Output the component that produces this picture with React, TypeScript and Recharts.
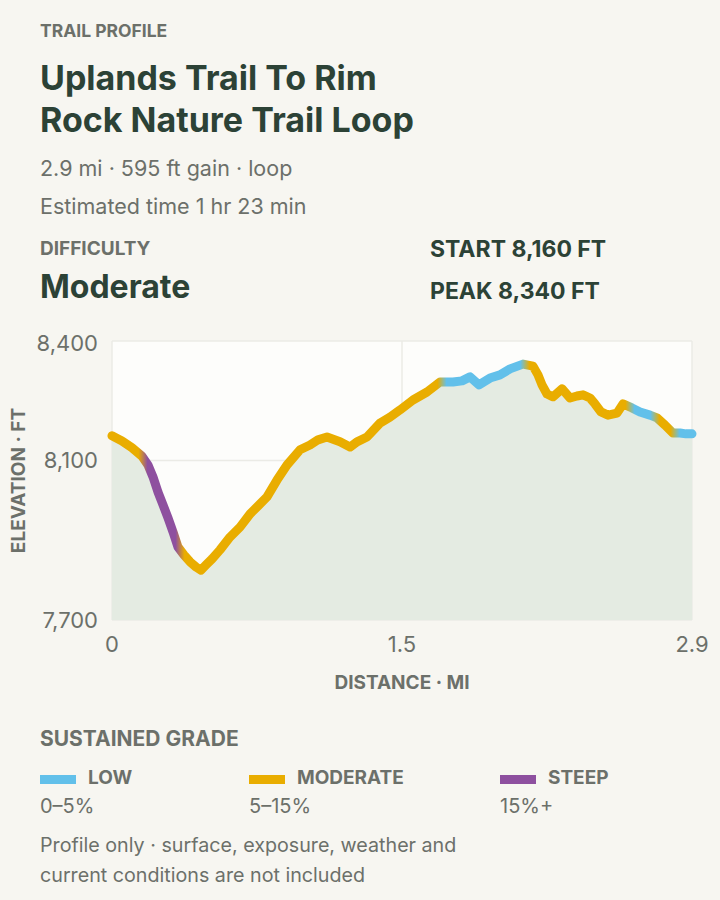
import React from "react";
import {
  ComposedChart,
  Area,
  Line,
  XAxis,
  YAxis,
  CartesianGrid,
  Label,
} from "recharts";

// ---- data ----
const distanceMi = [
  0, 0.05, 0.1, 0.15, 0.18, 0.205, 0.23, 0.255, 0.28, 0.305, 0.33, 0.36, 0.39,
  0.42, 0.445, 0.47, 0.5, 0.54, 0.59, 0.64, 0.69, 0.73, 0.775, 0.825, 0.875,
  0.94, 0.99, 1.03, 1.075, 1.14, 1.19, 1.225, 1.275, 1.34, 1.39, 1.44, 1.505,
  1.575, 1.64, 1.705, 1.75, 1.79, 1.835, 1.89, 1.94, 1.99, 2.055, 2.105, 2.13,
  2.15, 2.175, 2.205, 2.25, 2.29, 2.325, 2.355, 2.39, 2.415, 2.445, 2.48,
  2.525, 2.555, 2.6, 2.64, 2.69, 2.725, 2.765, 2.805, 2.84, 2.87, 2.9,
];
const elevationFt = [
  8162, 8149, 8132, 8111, 8089, 8059, 8021, 7989, 7956, 7921, 7883, 7863,
  7846, 7833, 7825, 7838, 7853, 7876, 7908, 7933, 7966, 7986, 8009, 8051,
  8089, 8127, 8139, 8152, 8159, 8147, 8134, 8147, 8159, 8194, 8209, 8227,
  8252, 8272, 8297, 8297, 8300, 8310, 8290, 8307, 8315, 8330, 8342, 8337,
  8315, 8290, 8267, 8260, 8280, 8257, 8262, 8265, 8257, 8242, 8222, 8214,
  8219, 8242, 8232, 8222, 8214, 8207, 8189, 8169, 8169, 8167, 8167,
];

// sustained-grade segments along the trail (mi)
const gradeBreaks = [0, 0.155, 0.34, 1.65, 2.065, 2.59, 2.715, 2.815, 2.9];
const gradeClasses = [
  "moderate",
  "steep",
  "moderate",
  "low",
  "moderate",
  "low",
  "moderate",
  "low",
];

const xTicks = [0, 1.45, 2.9];
const xTickLabels = ["0", "1.5", "2.9"];
const yTicks = [7700, 8100, 8400];
const yTickLabels = ["7,700", "8,100", "8,400"];

const legendKeys = ["low", "moderate", "steep"];
const legendNames = ["LOW", "MODERATE", "STEEP"];
const legendRanges = ["0–5%", "5–15%", "15%+"];

const gradeColors: Record<string, string> = {
  low: "#62c0ea",
  moderate: "#e9ad00",
  steep: "#8e509f",
};

const data = distanceMi.map((d, i) => ({ dist: d, elev: elevationFt[i] }));

const X_MAX = 2.9;
const BLEND = 0.045;

const stops: { offset: number; color: string }[] = [];
gradeClasses.forEach((cls, i) => {
  const s = gradeBreaks[i];
  const e = gradeBreaks[i + 1];
  const s2 = i === 0 ? s : s + BLEND / 2;
  const e2 = i === gradeClasses.length - 1 ? e : e - BLEND / 2;
  stops.push({ offset: s2 / X_MAX, color: gradeColors[cls] });
  stops.push({ offset: e2 / X_MAX, color: gradeColors[cls] });
});

const FONT = "Inter, 'Noto Sans', sans-serif";
const DARK = "#2c4236";
const GRAY = "#6c706a";

const T = (props: {
  x: number;
  cy: number;
  size: number;
  weight?: number;
  color?: string;
  lh?: number;
  children: React.ReactNode;
  ls?: number;
}) => {
  const lh = props.lh ?? Math.round(props.size * 1.3);
  return (
    <div
      style={{
        position: "absolute",
        left: props.x,
        top: props.cy - lh / 2,
        fontSize: props.size,
        lineHeight: `${lh}px`,
        fontWeight: props.weight ?? 400,
        color: props.color ?? GRAY,
        whiteSpace: "nowrap",
        letterSpacing: props.ls ?? 0,
      }}
    >
      {props.children}
    </div>
  );
};

const YTitle = (props: any) => {
  const vb = props.viewBox || { x: 0, y: 0, width: 112, height: 279 };
  const cx = vb.x + 18;
  const cy = vb.y + vb.height / 2;
  return (
    <text
      x={cx}
      y={cy}
      transform={`rotate(-90, ${cx}, ${cy})`}
      textAnchor="middle"
      dominantBaseline="central"
      fill={GRAY}
      fontSize={19}
      fontWeight={700}
      fontFamily={FONT}
    >
      ELEVATION · FT
    </text>
  );
};

export default function App() {
  return (
    <div
      style={{
        position: "absolute",
        left: 0,
        top: 0,
        width: 720,
        height: 900,
        background: "#f7f6f1",
        fontFamily: FONT,
        overflow: "hidden",
      }}
    >
      <T x={40} cy={30} size={17.5} weight={700}>
        TRAIL PROFILE
      </T>
      <T x={40} cy={78} size={34} weight={700} color={DARK}>
        Uplands Trail To Rim
      </T>
      <T x={40} cy={120} size={34} weight={700} color={DARK}>
        Rock Nature Trail Loop
      </T>
      <T x={40} cy={168} size={21.5}>
        2.9 mi · 595 ft gain · loop
      </T>
      <T x={40} cy={206} size={21.5}>
        Estimated time 1 hr 23 min
      </T>
      <T x={40} cy={248} size={19} weight={700}>
        DIFFICULTY
      </T>
      <T x={40} cy={287} size={32} weight={700} color={DARK}>
        Moderate
      </T>
      <T x={430} cy={249} size={23} weight={700} color={DARK}>
        START 8,160 FT
      </T>
      <T x={430} cy={291} size={23} weight={700} color={DARK}>
        PEAK 8,340 FT
      </T>

      <div style={{ position: "absolute", left: 0, top: 330 }}>
        <ComposedChart
          width={720}
          height={375}
          data={data}
          margin={{ top: 11, right: 28, bottom: 0, left: 0 }}
        >
          <defs>
            <linearGradient id="gradeGrad" x1="0" y1="0" x2="1" y2="0">
              {stops.map((s, i) => (
                <stop key={i} offset={s.offset} stopColor={s.color} />
              ))}
            </linearGradient>
          </defs>
          <CartesianGrid
            fill="#fdfdfb"
            stroke="#ebebe6"
            strokeWidth={1.5}
            horizontalValues={yTicks}
            verticalValues={xTicks}
          />
          <XAxis
            dataKey="dist"
            type="number"
            domain={[0, X_MAX]}
            ticks={xTicks}
            tickFormatter={(v: number) => xTickLabels[xTicks.indexOf(v)]}
            axisLine={false}
            tickLine={false}
            tickMargin={10}
            height={85}
            tick={{ fill: GRAY, fontSize: 22, fontFamily: FONT }}
          >
            <Label
              value="DISTANCE · MI"
              position="insideTop"
              offset={56}
              style={{
                fill: GRAY,
                fontSize: 19,
                fontWeight: 700,
                fontFamily: FONT,
              }}
            />
          </XAxis>
          <YAxis
            type="number"
            domain={[7700, 8400]}
            ticks={yTicks}
            tickFormatter={(v: number) => yTickLabels[yTicks.indexOf(v)]}
            axisLine={false}
            tickLine={false}
            tickMargin={8}
            width={112}
            tick={{ fill: GRAY, fontSize: 22, fontFamily: FONT }}
          >
            <Label content={YTitle} />
          </YAxis>
          <Area
            type="linear"
            dataKey="elev"
            fill="#e4ebe2"
            fillOpacity={1}
            stroke="none"
            baseValue={7700}
            isAnimationActive={false}
          />
          <Line
            type="linear"
            dataKey="elev"
            stroke="url(#gradeGrad)"
            strokeWidth={9}
            strokeLinecap="round"
            strokeLinejoin="round"
            dot={false}
            activeDot={false}
            isAnimationActive={false}
          />
        </ComposedChart>
      </div>

      <T x={40} cy={738} size={21} weight={700}>
        SUSTAINED GRADE
      </T>
      {legendKeys.map((k, i) => {
        const x = [40, 249, 500][i];
        return (
          <React.Fragment key={k}>
            <div
              style={{
                position: "absolute",
                left: x,
                top: 775,
                width: 36,
                height: 9,
                background: gradeColors[k],
              }}
            />
            <T x={x + 48} cy={777} size={19} weight={700}>
              {legendNames[i]}
            </T>
            <T x={x} cy={806} size={20}>
              {legendRanges[i]}
            </T>
          </React.Fragment>
        );
      })}
      <T x={40} cy={845} size={19.7}>
        Profile only · surface, exposure, weather and
      </T>
      <T x={40} cy={875} size={19.7}>
        current conditions are not included
      </T>
    </div>
  );
}
